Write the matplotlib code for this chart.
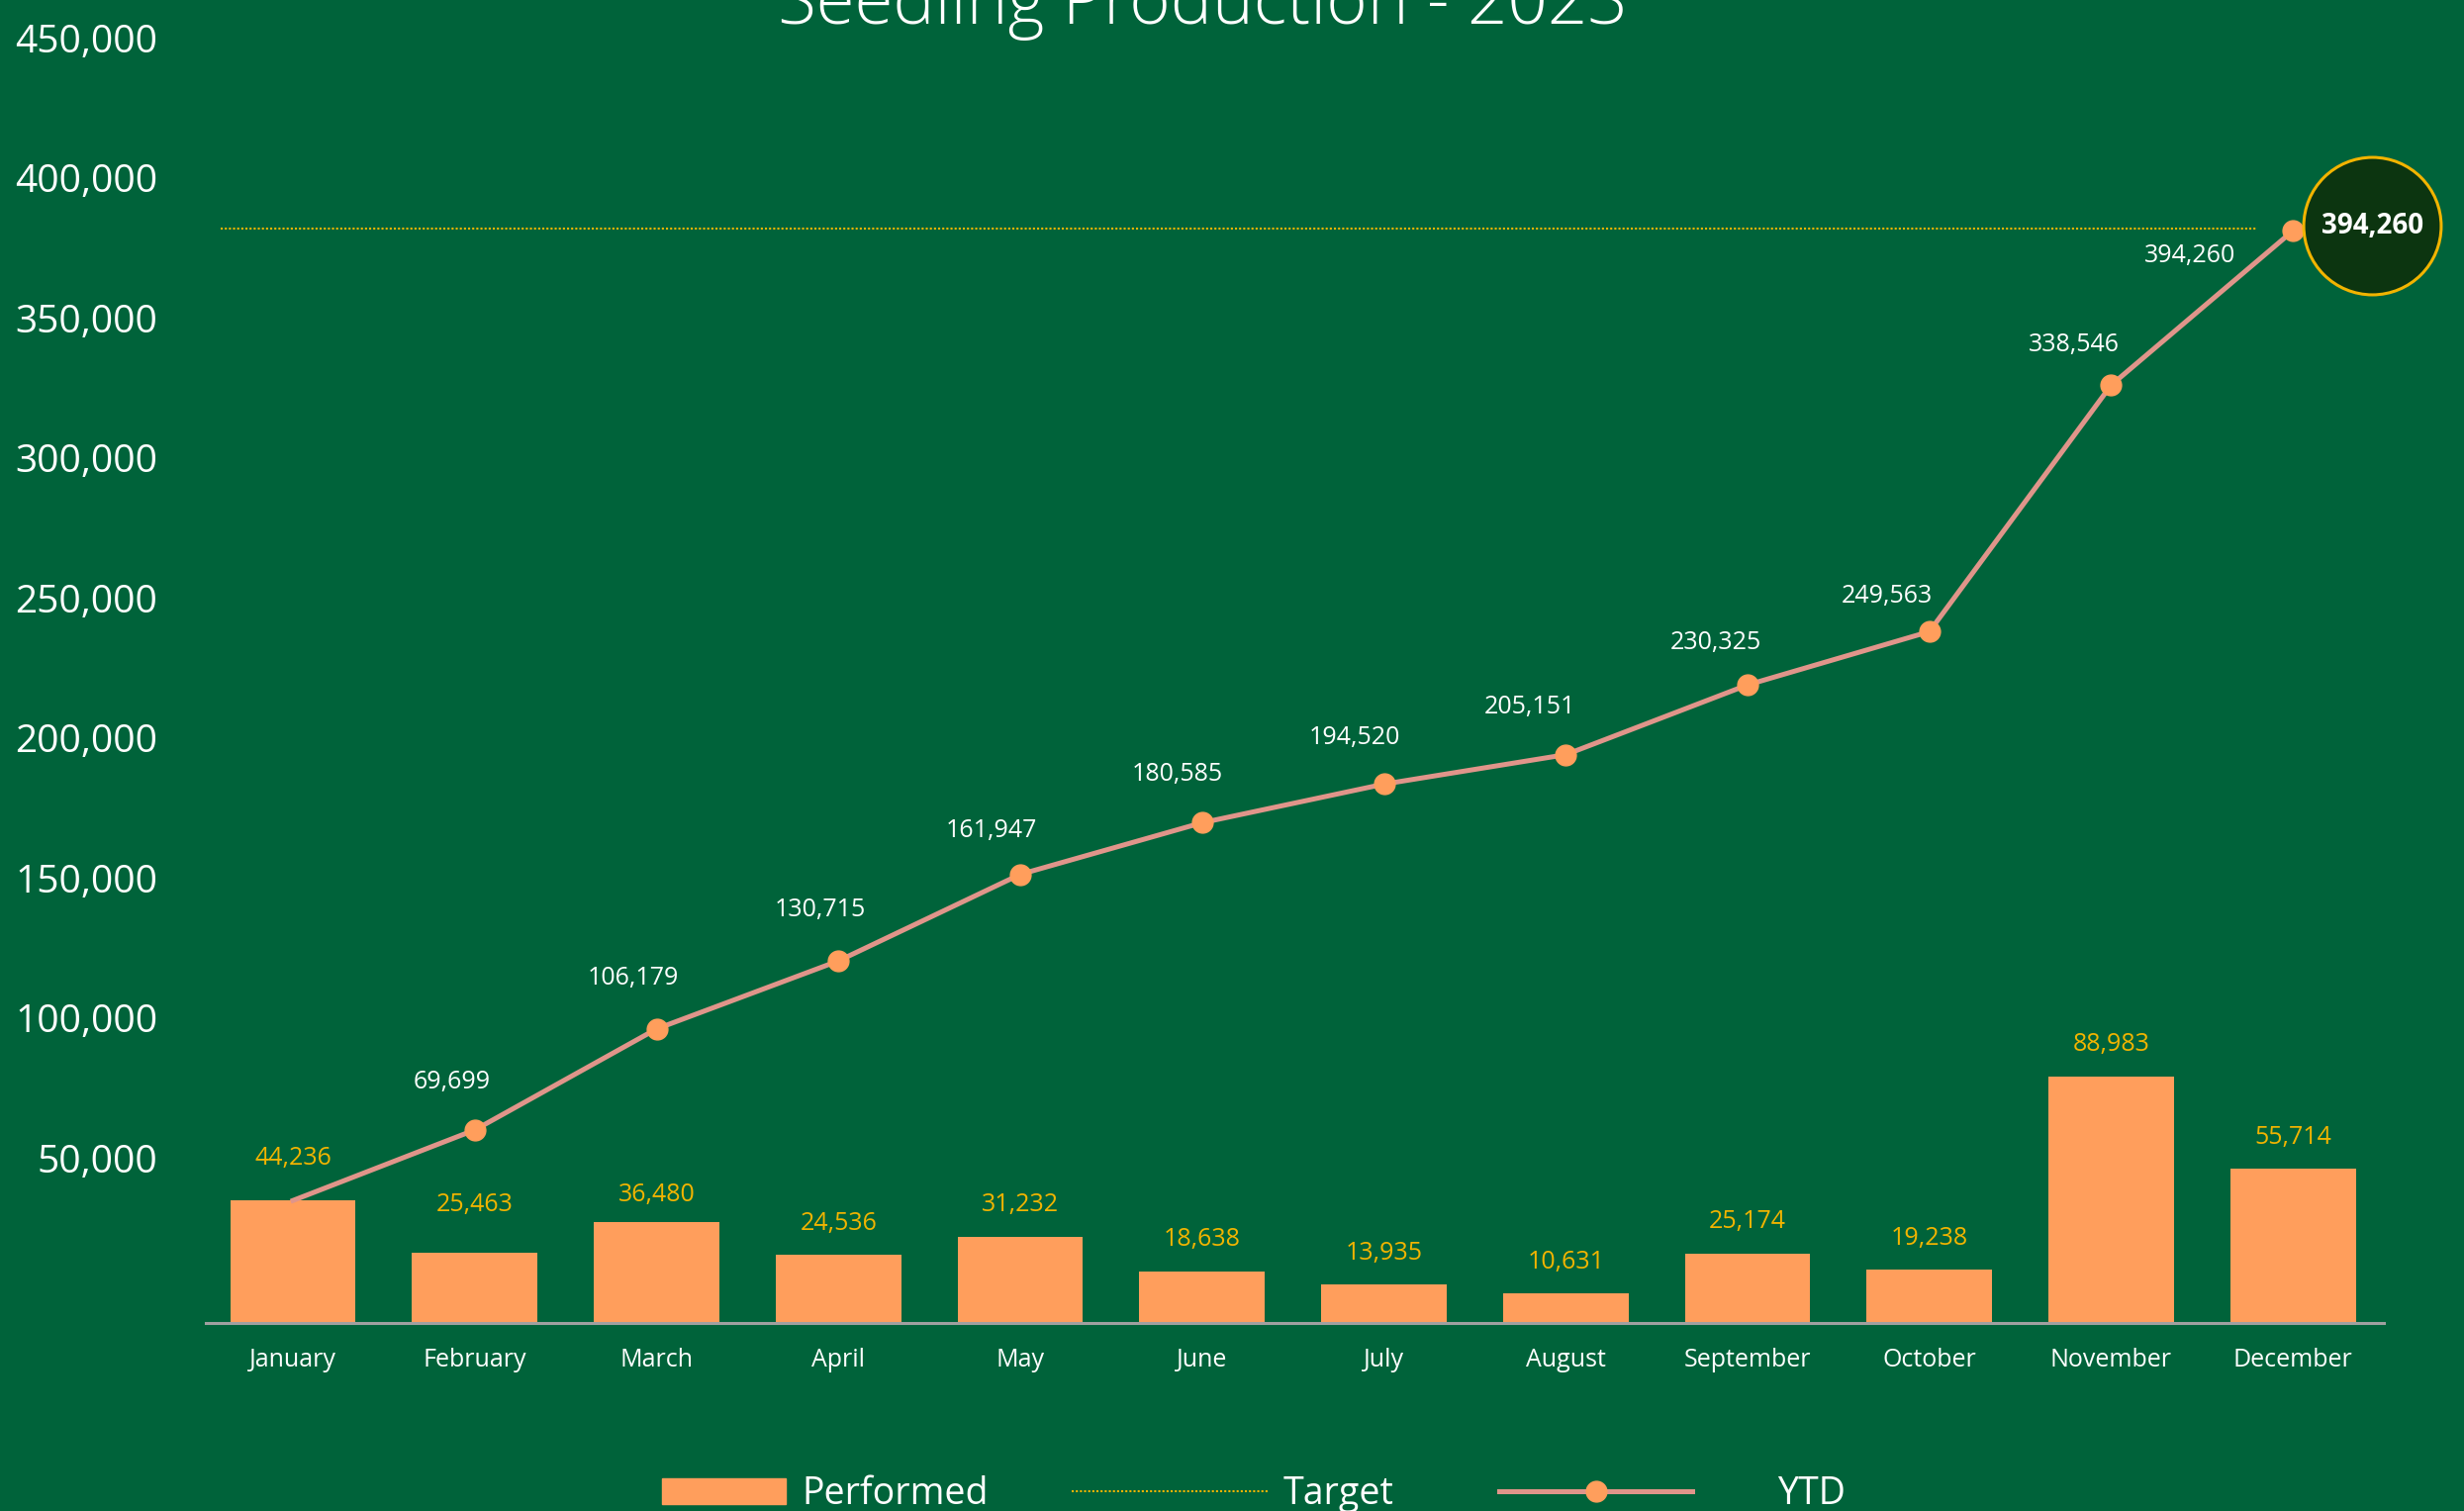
import numpy as np
import matplotlib
matplotlib.use("Agg")
import matplotlib.pyplot as plt
from matplotlib.patches import Patch
from matplotlib.lines import Line2D
from matplotlib.ticker import FuncFormatter
from matplotlib.transforms import ScaledTranslation

# data
months = ["January", "February", "March", "April", "May", "June", "July",
          "August", "September", "October", "November", "December"]
performed = [44236, 25463, 36480, 24536, 31232, 18638, 13935, 10631, 25174, 19238, 88983, 55714]
ytd = [44236, 69699, 106179, 130715, 161947, 180585, 194520, 205151, 230325, 249563, 338546, 394260]
target = 395000
y_ticks = [50000, 100000, 150000, 200000, 250000, 300000, 350000, 400000, 450000]

# colours
bg = "#00633a"
bar_c = "#ff9e5c"
line_c = "#e0958a"
gold = "#f2b400"
circle_c = "#0c3510"

plt.rcParams['font.family'] = ['Open Sans', 'DejaVu Sans']

fig = plt.figure(figsize=(24.9, 15.27), dpi=100, facecolor=bg)
ax = fig.add_axes([0.0835, 0.1244, 0.884, 0.8251])
ax.set_facecolor(bg)

x = np.arange(len(months))

# monthly bars, labels nudged up where the line passes close by
ax.bar(x, performed, width=0.69, color=bar_c, zorder=2)
lift = {0: 8, 1: 12, 2: -3}
for i, (xi, v) in enumerate(zip(x, performed)):
    ax.annotate(f"{v:,}", (xi, v), xytext=(0, 23 + lift.get(i, 0)), textcoords="offset points",
                ha="center", va="center", color=gold, fontsize=18)

# target line
ax.hlines(target, -0.4, 10.8, colors=gold, linestyles=(0, (1, 1)), lw=1.5, zorder=2)

# cumulative line
ax.plot(x, ytd, color=line_c, lw=3.6, zorder=3)
ax.plot(x[1:], ytd[1:], "o", color=bar_c, ms=15, zorder=4)
label_off = [None, (-17, 35), (-17, 37), (-13, 37), (-21, 32), (-18, 35), (-21, 34),
             (-26, 35), (-23, 31), (-31, 26), (-27, 29), (-75, -18)]
for i in range(1, len(x)):
    ax.annotate(f"{ytd[i]:,}", (x[i], ytd[i]), xytext=label_off[i], textcoords="offset points",
                ha="center", va="center", color="white", fontsize=18)

# highlight circle for the year total
shift = ax.transData + ScaledTranslation(0.80, 0.05, fig.dpi_scale_trans)
ax.plot([x[-1]], [ytd[-1]], "o", ms=100, mfc=circle_c, mec=gold, mew=2.2,
        transform=shift, clip_on=False, zorder=5)
ax.text(x[-1], ytd[-1], f"{ytd[-1]:,}", transform=shift, ha="center", va="center",
        fontsize=20, fontweight="bold", color="white", zorder=6)

# axes
ax.set_xlim(-0.48, 11.5)
ax.set_ylim(0, 450000)
ax.set_xticks(x)
ax.set_xticklabels(months)
ax.set_yticks(y_ticks)
ax.yaxis.set_major_formatter(FuncFormatter(lambda v, p: f"{int(v):,}"))
ax.tick_params(axis="x", length=0, pad=18, labelsize=18, labelcolor="white")
ax.tick_params(axis="y", length=0, pad=35, labelsize=28, labelcolor="white")
for v, lbl in zip(y_ticks, ax.get_yticklabels()):
    up = (27 + (v - 50000) / 400000 * 12) / 100
    lbl.set_transform(lbl.get_transform() + ScaledTranslation(0, up, fig.dpi_scale_trans))
for s in ["top", "right", "left"]:
    ax.spines[s].set_visible(False)
ax.spines["bottom"].set_color("#a0a0a0")
ax.spines["bottom"].set_linewidth(2.2)

# title (partly off the top like the reference)
fig.text(0.488, 1 - 24 / 1527, "Seedling Production - 2023", ha="center", va="baseline",
         fontsize=51, color="white", fontweight="light")

# legend: three entries at fixed column positions
entries = [
    (Patch(color=bar_c), "Performed", 669, 3.33, 0.45),
    (Line2D([], [], color=gold, lw=1.5, linestyle=(0, (1, 1))), "Target", 1083, 5.3, 0.4),
    (Line2D([], [], color=line_c, lw=3.6, marker="o", ms=15, mfc=bar_c, mec=bar_c), "YTD", 1515, 5.2, 2.3),
]
for h, lab, left_px, hl, pad in entries:
    fig.legend([h], [lab], loc="center left", bbox_to_anchor=(left_px / 2490, 0.011),
               frameon=False, fontsize=27, labelcolor="white", handlelength=hl,
               handletextpad=pad, borderpad=0, borderaxespad=0, numpoints=1)

fig.savefig("out.png", dpi=100, facecolor=bg)
